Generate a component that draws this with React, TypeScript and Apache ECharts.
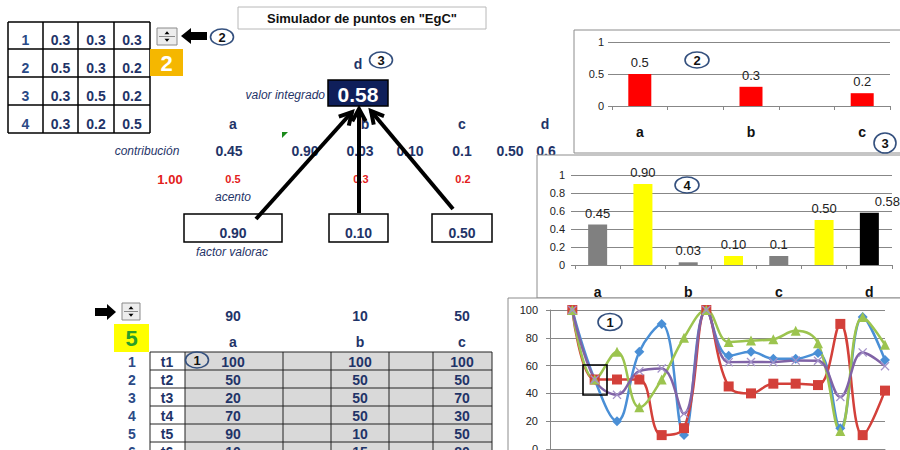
import React, { useEffect, useRef } from 'react';
import * as echarts from 'echarts';

// ---------------- data ----------------
const weightCategories = ['a', '', 'b', '', 'c'];
const weightValues: (number | null)[] = [0.5, null, 0.3, null, 0.2];

const contribCategories = ['a', '', 'b', '', 'c', '', 'd'];
const contribValues = [0.45, 0.9, 0.03, 0.1, 0.1, 0.5, 0.58];
const contribValueLabels = ['0.45', '0.90', '0.03', '0.10', '0.1', '0.50', '0.58'];
const contribKinds = ['contrib', 'factor', 'contrib', 'factor', 'contrib', 'factor', 'total'];

const timeCategories = ['', 't1', 't2', 't3', 't4', 't5', 't6', 't7', 't8', 't9', 't10', 't11', 't12', 't13', 't14', 't15'];
const seriesA: (number | null)[] = [null, 100, 50, 20, 70, 90, 10, 100, 67, 70, 65, 65, 69, 15, 95, 64];
const seriesB: (number | null)[] = [null, 100, 50, 50, 50, 10, 15, 100, 45, 40, 47, 47, 46, 90, 10, 42];
const seriesC: (number | null)[] = [null, 100, 50, 70, 30, 50, 80, 100, 77, 78, 79, 85, 76, 13, 95, 75];
const seriesD: (number | null)[] = [null, 100, 50, 39, 56, 58, 25.5, 100, 62.5, 62.6, 62.5, 63.6, 63.5, 37.5, 69.5, 59.6];

const weightTableRows = [
  ['1', '0.3', '0.3', '0.3'],
  ['2', '0.5', '0.3', '0.2'],
  ['3', '0.3', '0.5', '0.2'],
  ['4', '0.3', '0.2', '0.5'],
];
const selectedWeightRow = '2';
const integratedValue = '0.58';
const columnLetters = ['a', 'b', 'c', 'd'];
const contribRowTexts = ['0.45', '0.90', '0.03', '0.10', '0.1', '0.50', '0.6'];
const accentTexts = ['1.00', '0.5', '0.3', '0.2'];
const factorTexts = ['0.90', '0.10', '0.50'];
const factorHeaders = ['90', '10', '50'];
const scoreColumns = ['a', 'b', 'c'];
const selectedScoreRow = '5';
const scoreRows = [
  ['1', 't1', '100', '100', '100'],
  ['2', 't2', '50', '50', '50'],
  ['3', 't3', '20', '50', '70'],
  ['4', 't4', '70', '50', '30'],
  ['5', 't5', '90', '10', '50'],
  ['6', 't6', '10', '15', '80'],
];

// ---------------- helpers ----------------
const NAVY = '#1f3468';
const FAM = '"Liberation Sans", Arial, sans-serif';
const GRID = '#878787';

type TOpt = { size?: number; weight?: string; style?: string; color?: string; align?: string; z?: number };
function txt(text: string, x: number, y: number, o: TOpt = {}) {
  const font = `${o.style || 'normal'} ${o.weight || 'bold'} ${o.size || 14}px ${FAM}`;
  const align = o.align || 'center';
  return {
    type: 'text', z: o.z ?? 10, silent: true,
    style: { text, x, y, font, fill: o.color || NAVY, textAlign: align, align, textVerticalAlign: 'middle', verticalAlign: 'middle' },
  };
}
function rect(x: number, y: number, w: number, h: number, fill: string, stroke: string | null, lw = 1, z = 5) {
  return { type: 'rect', z, silent: true, shape: { x, y, width: w, height: h }, style: { fill, stroke: stroke || undefined, lineWidth: lw } };
}
function seg(x1: number, y1: number, x2: number, y2: number, stroke = '#000', lw = 1, z = 6) {
  return { type: 'line', z, silent: true, shape: { x1, y1, x2, y2 }, style: { stroke, lineWidth: lw } };
}
function poly(points: number[][], fill: string, z = 6) {
  return { type: 'polygon', z, silent: true, shape: { points }, style: { fill } };
}
function badge(label: string, cx: number, cy: number, rx = 11.5, ry = 8) {
  return [
    { type: 'ellipse', z: 20, silent: true, shape: { cx, cy, rx, ry }, style: { fill: 'rgba(0,0,0,0)', stroke: '#34507e', lineWidth: 1.6 } },
    txt(label, cx, cy + 0.5, { size: 13, color: '#111', z: 21 }),
  ];
}
function arrow(x1: number, y1: number, x2: number, y2: number) {
  const ang = Math.atan2(y2 - y1, x2 - x1);
  const L = 14, sp = 0.5;
  const p1 = [x2 - L * Math.cos(ang - sp), y2 - L * Math.sin(ang - sp)];
  const p2 = [x2 - L * Math.cos(ang + sp), y2 - L * Math.sin(ang + sp)];
  return [
    seg(x1, y1, x2, y2, '#000', 4, 15),
    { type: 'polyline', z: 15, silent: true, shape: { points: [p1, [x2, y2], p2] }, style: { stroke: '#000', lineWidth: 4, fill: null } },
  ];
}
function spinner(x: number, y: number, w: number, h: number) {
  const cx = x + w / 2;
  const u = y + h / 4 + 0.5, d = y + (3 * h) / 4 - 0.5;
  return [
    rect(x, y, w, h, '#ededed', '#8a8a8a', 1, 6),
    seg(x + 2, y + h / 2, x + w - 2, y + h / 2, '#8a8a8a', 1, 7),
    poly([[cx - 2.5, u + 1.5], [cx + 2.5, u + 1.5], [cx, u - 1.5]], '#000', 7),
    poly([[cx - 2.5, d - 1.5], [cx + 2.5, d - 1.5], [cx, d + 1.5]], '#000', 7),
  ];
}

function buildGraphics() {
  const els: any[] = [];
  // chart frames
  els.push(rect(574, 30, 340, 123, '#fff', '#8c8c8c', 1, -1));
  els.push(rect(537, 155, 370, 143, '#fff', '#8c8c8c', 1, -1));
  els.push(rect(508, 298, 400, 170, '#fff', '#8c8c8c', 1, -1));

  // top-left weight table
  const tx = [8, 43, 78, 114, 150];
  const ty = [22, 49, 77, 105, 133];
  els.push(rect(tx[0], ty[0], tx[4] - tx[0], ty[4] - ty[0], '#fff', null, 0, 4));
  tx.forEach((x) => els.push(seg(x, ty[0], x, ty[4], '#000', 1.5)));
  ty.forEach((y) => els.push(seg(tx[0], y, tx[4], y, '#000', 1.5)));
  weightTableRows.forEach((row, r) =>
    row.forEach((v, c) => els.push(txt(v, (tx[c] + tx[c + 1]) / 2, ty[r + 1] - 9, { color: c === 0 ? '#2b4a86' : NAVY })))
  );
  els.push(...spinner(157, 28, 20, 17));
  els.push(poly([[181, 36], [191, 28], [191, 32], [207, 32], [207, 40], [191, 40], [191, 44]], '#000'));
  els.push(...badge('2', 222, 37));
  els.push(rect(150, 49, 33, 27, '#f5b700', null, 0, 6));
  els.push(txt(selectedWeightRow, 166.5, 63, { size: 22, color: '#fff' }));

  // title
  els.push(rect(238, 7, 248, 22, '#fff', '#b8b8b8', 1, 6));
  els.push(txt('Simulador de puntos en "EgC"', 362, 18, { size: 13, color: '#111' }));

  // integrated value
  els.push(txt('d', 358, 64, { size: 14 }));
  els.push(...badge('3', 381, 60));
  els.push(txt('valor integrado', 325, 95, { size: 12, weight: 'normal', style: 'italic', align: 'right' }));
  els.push(rect(328, 80, 60, 26, '#0f1f5a', '#000', 1.5, 6));
  els.push(txt(integratedValue, 358, 94, { size: 21, color: '#fff' }));

  // headers and rows
  const hx = [233, 365, 462, 545];
  columnLetters.forEach((l, i) => els.push(txt(l, hx[i], 124)));
  els.push(poly([[282, 132], [288, 132], [282, 138]], '#1a8a1a'));
  els.push(txt('contribución', 147, 151, { size: 12, weight: 'normal', style: 'italic' }));
  const cx = [229, 305, 360, 410, 462, 510, 546];
  contribRowTexts.forEach((t, i) => els.push(txt(t, cx[i], 151, { z: i === 6 ? -2 : 10 })));
  const ax = [170, 233, 361, 463];
  accentTexts.forEach((t, i) => els.push(txt(t, ax[i], 179, { size: i === 0 ? 13 : 11, color: '#e3201b' })));
  els.push(txt('acento', 233, 197, { size: 12, weight: 'normal', style: 'italic' }));
  const boxes = [[184, 98], [329, 59], [432, 60]];
  boxes.forEach(([x, w], i) => {
    els.push(rect(x, 214, w, 28, '#fff', '#000', 1.5, 6));
    els.push(txt(factorTexts[i], x + w / 2, 233));
  });
  els.push(txt('factor valorac', 232, 252, { size: 12, weight: 'normal', style: 'italic' }));
  els.push(...arrow(256, 219, 352, 112));
  els.push(...arrow(359, 213, 359, 109));
  els.push(...arrow(453, 209, 371, 111));

  // bottom score table
  els.push(poly([[116, 312], [107, 304], [107, 308], [95, 308], [95, 316], [107, 316], [107, 320]], '#000'));
  els.push(...spinner(122, 303, 18, 17));
  els.push(rect(114, 324, 35, 28, '#ffff00', null, 0, 6));
  els.push(txt(selectedScoreRow, 131.5, 338, { size: 22, color: '#2a9e2a' }));
  const sx = [233, 360, 462];
  factorHeaders.forEach((t, i) => els.push(txt(t, sx[i], 316)));
  scoreColumns.forEach((t, i) => els.push(txt(t, sx[i], 342)));
  const bx = [150, 185, 283, 331, 389, 433, 492];
  const rowH = 18, top = 352;
  const bottom = top + rowH * scoreRows.length;
  els.push(rect(185, top, 492 - 185, bottom - top, '#d9d9d9', null, 0, 4));
  els.push(rect(150, top, 35, bottom - top, '#fff', null, 0, 4));
  bx.forEach((x) => els.push(seg(x, top, x, bottom, '#222', 1)));
  for (let r = 0; r <= scoreRows.length; r++) els.push(seg(150, top + r * rowH, 492, top + r * rowH, '#222', 1));
  scoreRows.forEach((row, r) => {
    const y = top + r * rowH + 9.5;
    els.push(txt(row[0], 132, y, { color: '#2b4a86' }));
    els.push(txt(row[1], 167, y));
    els.push(txt(row[2], sx[0], y));
    els.push(txt(row[3], sx[1], y));
    els.push(txt(row[4], sx[2], y));
  });
  els.push(...badge('1', 197, 360));

  // chart annotations
  els.push(...badge('2', 697, 60, 12, 8));
  els.push(...badge('3', 885, 143, 11, 10));
  els.push(...badge('4', 687, 185, 12, 8));
  els.push(...badge('1', 610, 322, 12, 8.5));
  els.push({ type: 'rect', z: 20, silent: true, shape: { x: 583, y: 365, width: 24, height: 30 }, style: { fill: 'rgba(0,0,0,0)', stroke: '#000', lineWidth: 1.6 } });
  return els;
}

const kindColor: Record<string, string> = { contrib: '#808080', factor: '#ffff00', total: '#000000' };
const xPath = 'path://M0,1 L1,0 L5,4 L9,0 L10,1 L6,5 L10,9 L9,10 L5,6 L1,10 L0,9 L4,5 Z';

export default function App() {
  const ref = useRef<HTMLDivElement>(null);
  useEffect(() => {
    if (!ref.current) return;
    const chart = echarts.init(ref.current, undefined, { renderer: 'svg' });
    const axisLbl = { fontFamily: FAM, color: '#222', fontSize: 11 };
    const catLbl = { fontFamily: FAM, color: '#111', fontSize: 14, fontWeight: 'bold' as const, interval: 0 };
    const option: any = {
      animation: false,
      backgroundColor: '#fff',
      textStyle: { fontFamily: FAM },
      graphic: { elements: buildGraphics() },
      grid: [
        { left: 612, top: 42, width: 278, height: 64, outerBoundsMode: 'none' },
        { left: 575, top: 175, width: 317, height: 90, outerBoundsMode: 'none' },
        { left: 550, top: 310, width: 335, height: 139, outerBoundsMode: 'none' },
      ],
      xAxis: [
        {
          gridIndex: 0, type: 'category', data: weightCategories,
          axisLine: { lineStyle: { color: GRID } }, axisTick: { show: true, length: 4, lineStyle: { color: GRID } },
          axisLabel: { ...catLbl, margin: 19 },
        },
        {
          gridIndex: 1, type: 'category', data: contribCategories,
          axisLine: { lineStyle: { color: GRID } }, axisTick: { show: true, length: 4, lineStyle: { color: GRID } },
          axisLabel: { ...catLbl, margin: 20 },
        },
        {
          gridIndex: 2, type: 'category', data: timeCategories, boundaryGap: false,
          axisLine: { lineStyle: { color: GRID } }, axisTick: { show: false }, axisLabel: { show: false },
        },
      ],
      yAxis: [
        {
          gridIndex: 0, type: 'value', min: 0, max: 1, interval: 0.5,
          axisLine: { show: false }, axisTick: { show: true, length: 4, lineStyle: { color: GRID } },
          splitLine: { lineStyle: { color: GRID } }, axisLabel: { ...axisLbl, margin: 8 },
        },
        {
          gridIndex: 1, type: 'value', min: 0, max: 1, interval: 0.2,
          axisLine: { show: false }, axisTick: { show: true, length: 4, lineStyle: { color: GRID } },
          splitLine: { lineStyle: { color: GRID } }, axisLabel: { ...axisLbl, margin: 10 },
        },
        {
          gridIndex: 2, type: 'value', min: 0, max: 100, interval: 20,
          axisLine: { show: true, lineStyle: { color: GRID } }, axisTick: { show: true, length: 4, lineStyle: { color: GRID } },
          splitLine: { lineStyle: { color: GRID } }, axisLabel: { ...axisLbl, margin: 12 },
        },
      ],
      series: [
        {
          type: 'bar', xAxisIndex: 0, yAxisIndex: 0, data: weightValues, barWidth: 23,
          itemStyle: { color: '#ff0000' },
          label: { show: true, position: 'top', distance: 5, fontSize: 13, color: '#222', fontFamily: FAM },
        },
        {
          type: 'bar', xAxisIndex: 1, yAxisIndex: 1, barWidth: 19,
          data: contribValues.map((v, i) => ({
            value: v,
            itemStyle: { color: kindColor[contribKinds[i]] },
            label: { formatter: contribValueLabels[i], offset: contribKinds[i] === 'total' ? [18, 0] : [0, 0] },
          })),
          label: { show: true, position: 'top', distance: 5, fontSize: 13, color: '#222', fontFamily: FAM },
        },
        {
          type: 'line', xAxisIndex: 2, yAxisIndex: 2, data: seriesA, smooth: 0.4,
          symbol: 'diamond', symbolSize: 10, color: '#4a8fd6', lineStyle: { width: 2.5 },
        },
        {
          type: 'line', xAxisIndex: 2, yAxisIndex: 2, data: seriesB, smooth: 0.4,
          symbol: 'rect', symbolSize: 10, color: '#d3403a', lineStyle: { width: 2.5 },
        },
        {
          type: 'line', xAxisIndex: 2, yAxisIndex: 2, data: seriesC, smooth: 0.4,
          symbol: 'triangle', symbolSize: 10, color: '#9cc44f', lineStyle: { width: 2.5 },
        },
        {
          type: 'line', xAxisIndex: 2, yAxisIndex: 2, data: seriesD, smooth: 0.4,
          symbol: xPath, symbolSize: 9, color: '#8063a6', itemStyle: { color: '#a391c8' }, lineStyle: { width: 2.5, color: '#8063a6' },
        },
      ],
    };
    chart.setOption(option);
    return () => chart.dispose();
  }, []);
  return (
    <div
      ref={ref}
      style={{ position: 'fixed', left: 0, top: 0, width: 900, height: 450, background: '#fff' }}
    />
  );
}
